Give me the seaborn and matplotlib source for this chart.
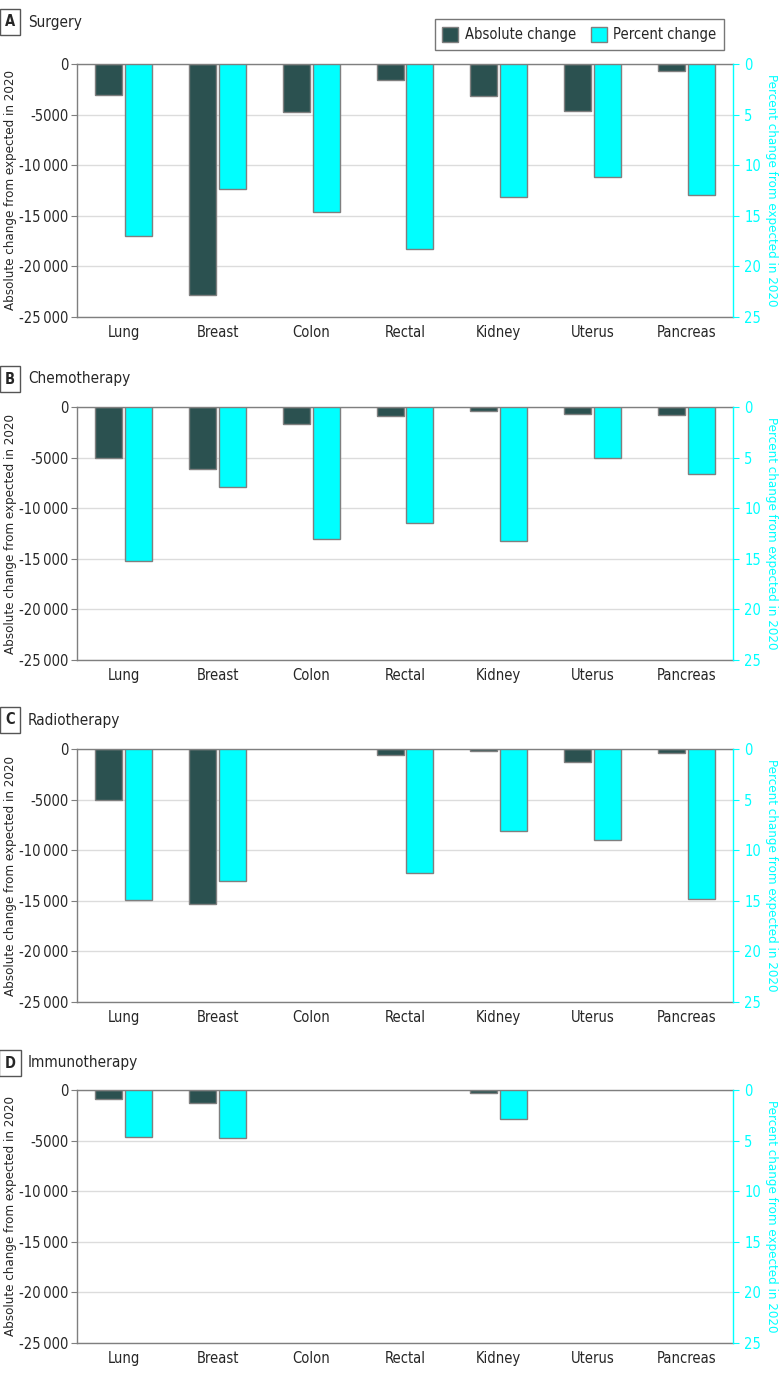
import numpy as np
import pandas as pd
import matplotlib.pyplot as plt
import seaborn as sns
from matplotlib.patches import Patch

nan = np.nan
cats = ['Lung', 'Breast', 'Colon', 'Rectal', 'Kidney', 'Uterus', 'Pancreas']
measures = ['Absolute change', 'Percent change']

surgery_abs = [-3030, -22800, -4700, -1600, -3150, -4650, -650]
surgery_pct = [17.0, 12.35, 14.6, 18.3, 13.1, 11.2, 12.9]
chemo_abs = [-5050, -6150, -1650, -920, -390, -660, -790]
chemo_pct = [15.2, 7.9, 13.0, 11.5, 13.2, 5.0, 6.6]
radio_abs = [-5000, -15300, nan, -560, -240, -1280, -370]
radio_pct = [14.9, 13.0, nan, 12.3, 8.1, 9.0, 14.8]
immuno_abs = [-850, -1250, nan, nan, -250, nan, nan]
immuno_pct = [4.6, 4.7, nan, nan, 2.85, nan, nan]

panels = [
    ('A', 'Surgery', surgery_abs, surgery_pct),
    ('B', 'Chemotherapy', chemo_abs, chemo_pct),
    ('C', 'Radiotherapy', radio_abs, radio_pct),
    ('D', 'Immunotherapy', immuno_abs, immuno_pct),
]

dark = '#2b5150'
cyan = '#00ffff'
edge = '#7f7f7f'

sns.set_style('white')
plt.rcParams['font.family'] = ['DejaVu Sans']
plt.rcParams['font.stretch'] = 'condensed'
plt.rcParams['font.size'] = 10


def fmt(v):
    v = int(v)
    if abs(v) >= 10000:
        s = f'{abs(v):,}'.replace(',', '\u2009')
    else:
        s = str(abs(v))
    return ('-' if v < 0 else '') + s


W, H = 780, 1376
fig = plt.figure(figsize=(W / 100, H / 100), dpi=100)

tops = [64, 407, 749, 1090]
title_y = [22, 379, 720, 1063]
ph = 253

for i, (letter, title, absv, pctv) in enumerate(panels):
    top = tops[i]
    ax = fig.add_axes([77 / W, 1 - (top + ph) / H, 656 / W, ph / H])
    df = pd.DataFrame({
        'Cancer': cats * 2,
        'Measure': [measures[0]] * 7 + [measures[1]] * 7,
        'abs': list(absv) + [nan] * 7,
        'pct': [nan] * 7 + list(pctv),
    })
    sns.barplot(data=df, x='Cancer', y='abs', hue='Measure', hue_order=measures,
                order=cats, palette=[dark, cyan], saturation=1, width=0.64, gap=0.1,
                edgecolor=edge, linewidth=1, errorbar=None, legend=False, ax=ax)
    ax2 = ax.twinx()
    sns.barplot(data=df, x='Cancer', y='pct', hue='Measure', hue_order=measures,
                order=cats, palette=[dark, cyan], saturation=1, width=0.64, gap=0.1,
                edgecolor=edge, linewidth=1, errorbar=None, legend=False, ax=ax2)

    ax.set_xlim(-0.5, 6.5)
    ax.set_ylim(-25000, 0)
    ax2.set_ylim(25, 0)
    ax.set_yticks(np.arange(-25000, 1, 5000))
    ax.set_yticklabels([fmt(v) for v in np.arange(-25000, 1, 5000)])
    ax2.set_yticks(np.arange(0, 26, 5))
    ax.set_axisbelow(True)
    ax.yaxis.grid(True, color='#dcdcdc', lw=1)
    ax.xaxis.grid(False)

    for s in ['top', 'left', 'bottom']:
        ax.spines[s].set_color(edge)
        ax.spines[s].set_linewidth(1)
        ax2.spines[s].set_visible(False)
    ax.spines['right'].set_visible(False)
    ax2.spines['right'].set_color(cyan)
    ax2.spines['right'].set_linewidth(1)

    ax.tick_params(axis='y', length=4, color=edge, labelsize=10.5, pad=2, left=True)
    ax.tick_params(axis='x', length=0, labelsize=10.5, pad=6)
    ax2.tick_params(axis='y', length=4, colors=cyan, labelsize=10.5, pad=4, right=True)

    ax.set_xlabel('')
    ax.set_ylabel('Absolute change from expected in 2020', fontsize=9.5, labelpad=2)
    ax2.set_ylabel('Percent change from expected in 2020', fontsize=9.5,
                   color=cyan, rotation=270, labelpad=12)

    ty = 1 - title_y[i] / H
    fig.text(10 / W, ty, letter, ha='center', va='center', fontsize=10.5,
             fontweight='bold',
             bbox=dict(boxstyle='square,pad=0.35', fc='white', ec='#555555', lw=1))
    fig.text(28 / W, ty, title, ha='left', va='center', fontsize=11)

handles = [Patch(facecolor=dark, edgecolor=edge, label=measures[0]),
           Patch(facecolor=cyan, edgecolor=edge, label=measures[1])]
fig.legend(handles=handles, loc='upper right', bbox_to_anchor=(731 / W, 1 - 12 / H),
           ncol=2, frameon=True, fancybox=False, edgecolor='#555555',
           fontsize=10.5, handlelength=1.1, handleheight=1.3, handletextpad=0.45,
           columnspacing=1.0, borderpad=0.5)
fig.legends[0].get_frame().set_linewidth(1)

fig.savefig('out.png', dpi=100)
